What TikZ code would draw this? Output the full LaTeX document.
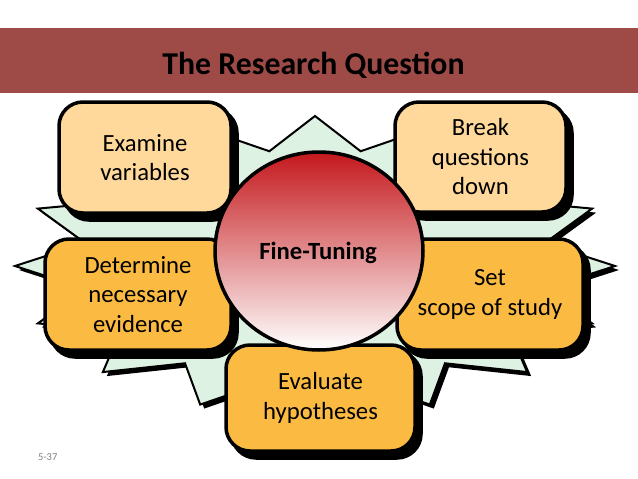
\documentclass[tikz,border=0pt]{standalone}
\usepackage{fontspec}
\setmainfont{Carlito}
\usetikzlibrary{shapes.geometric}
\definecolor{band}{RGB}{158,75,72}
\definecolor{lightbox}{RGB}{254,217,155}
\definecolor{darkbox}{RGB}{251,187,67}
\definecolor{stargreen}{RGB}{221,242,226}
\definecolor{ballred}{RGB}{196,24,28}
\definecolor{pagegray}{RGB}{128,128,128}
\begin{document}
\begin{tikzpicture}[x=1pt,y=-1pt,
  box/.style={draw=black, line width=3.5pt, rounded corners=24pt, align=center,
    inner sep=0pt, font=\fontsize{24.7}{29.5}\selectfont,
    preaction={draw=black, fill=black, line width=3.5pt,
      transform canvas={shift={(6pt,-7pt)}}}},
  lightbx/.style={box, fill=lightbox},
  darkbx/.style={box, fill=darkbox},
  starpath/.style={line width=2pt, line join=miter}
]
\useasboundingbox (0,0) rectangle (638,479);
\fill[white] (0,0) rectangle (638,479);
% title band
\fill[band] (0,28) rectangle (638,93);
\node[anchor=base, inner sep=0pt, font=\fontsize{31.8}{36}\selectfont\bfseries] (title) at (313.5,74) {The Research Question};
% starburst shadow
\begin{scope}[shift={(4,4)}]
\fill[black] plot[samples at={0,1,...,31}, variable=\k]
  ({315+(300-66*mod(\k,2))*cos(90-11.25*\k)}, {266-(150-33*mod(\k,2))*sin(90-11.25*\k)}) -- cycle;
\end{scope}
% starburst
\path[starpath, fill=stargreen, draw=black] plot[samples at={0,1,...,31}, variable=\k]
  ({315+(300-66*mod(\k,2))*cos(90-11.25*\k)}, {266-(150-33*mod(\k,2))*sin(90-11.25*\k)}) -- cycle;
% boxes
\node[lightbx, minimum width=172pt, minimum height=111pt] (examine) at (145,157.5) {Examine\\variables};
\node[lightbx, minimum width=171pt, minimum height=110pt] (break) at (480.5,157) {Break\\questions\\down};
\node[darkbx, minimum width=186pt, minimum height=111pt] (determine) at (138,294.5) {Determine\\necessary\\evidence};
\node[darkbx, minimum width=186pt, minimum height=111pt] (scope) at (490,294.5) {Set\\scope of study};
\node[darkbx, minimum width=189pt, minimum height=106pt] (evaluate) at (320.5,398) {Evaluate\\hypotheses};
% central ball
\node[ellipse, draw=black, line width=3.5pt, top color=ballred, bottom color=white,
  minimum width=208pt, minimum height=198pt, inner sep=0pt] (ball) at (319,251) {};
\node[anchor=base, inner sep=0pt, font=\fontsize{24.7}{28}\selectfont\bfseries] (fine) at (318,259) {Fine-Tuning};
% page number
\node[anchor=base west, inner sep=0pt, text=pagegray, font=\fontsize{10.5}{12}\selectfont] (page) at (38,460) {5-37};
\end{tikzpicture}
\end{document}
